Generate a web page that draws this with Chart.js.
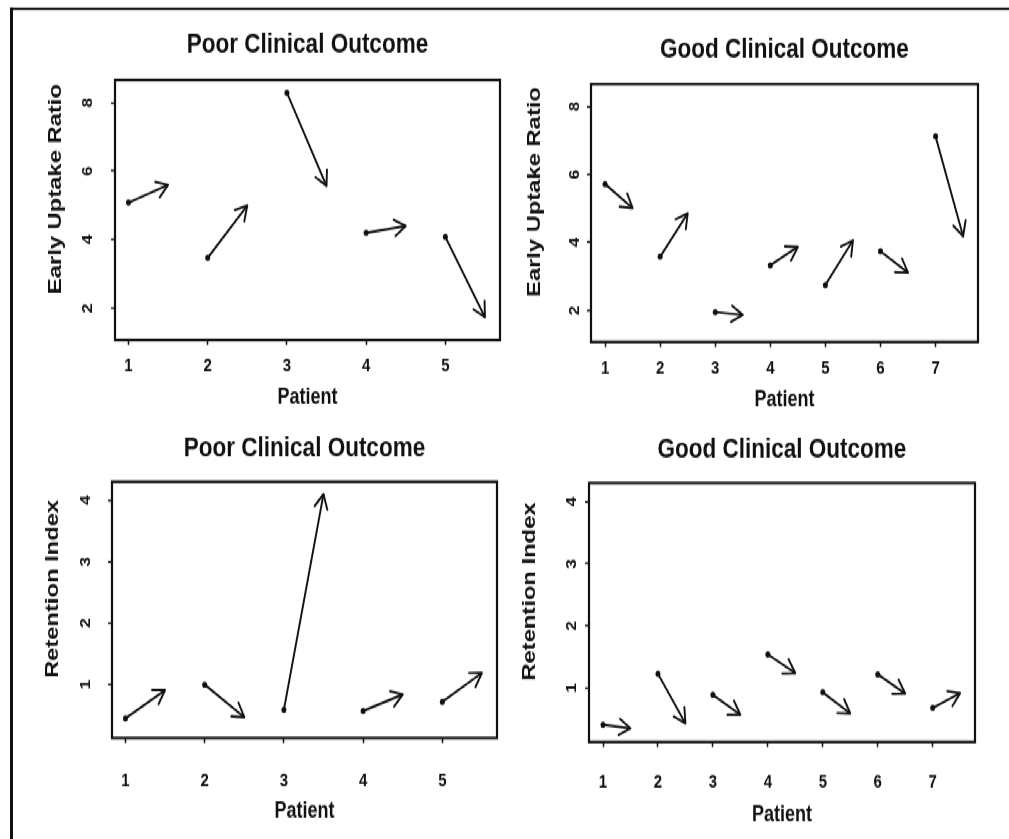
<!DOCTYPE html>
<html>
<head>
<meta charset="utf-8">
<script src="https://cdn.jsdelivr.net/npm/chart.js@4.4.1/dist/chart.umd.min.js"></script>
<style>
    html, body { margin: 0; padding: 0; background: #fff; }
    body { width: 1009px; height: 839px; position: relative; overflow: hidden; }
    /* the scanned figure is stretched vertically, so draw flat and stretch */
    #sheet { position: absolute; left: 0; top: 0; width: 1009px; height: 671.2px; transform: scale(1, 1.25); transform-origin: 0 0; }
    #frame { position: absolute; left: 10px; top: 6.4px; right: -20px; bottom: -20px; border-top: 2.4px solid #111; border-left: 3px solid #111; }
    canvas { position: absolute; }
</style>
</head>
<body>
<div id="sheet">
<div id="frame"></div>
<canvas id="uptakePoor" width="505" height="336" style="left:0;top:0"></canvas>
<canvas id="uptakeGood" width="504" height="336" style="left:505px;top:0"></canvas>
<canvas id="retentionPoor" width="505" height="335" style="left:0;top:336px"></canvas>
<canvas id="retentionGood" width="504" height="335" style="left:505px;top:336px"></canvas>
</div>
<script>
// patients in each outcome group
const poorPatients = [1, 2, 3, 4, 5];
const goodPatients = [1, 2, 3, 4, 5, 6, 7];

// early uptake ratio, first scan -> second scan
const uptakePoorBefore = [5.08, 3.47, 8.29, 4.20, 4.08];
const uptakePoorAfter = [5.60, 5.00, 5.57, 4.40, 1.74];
const uptakeGoodBefore = [5.72, 3.58, 1.95, 3.33, 2.75, 3.74, 7.12];
const uptakeGoodAfter = [5.01, 4.86, 1.87, 3.87, 4.06, 3.11, 4.18];

// retention index, first scan -> second scan
const retentionPoorBefore = [0.45, 1.00, 0.59, 0.57, 0.72];
const retentionPoorAfter = [0.91, 0.47, 4.10, 0.84, 1.19];
const retentionGoodBefore = [0.41, 1.23, 0.89, 1.54, 0.93, 1.22, 0.68];
const retentionGoodAfter = [0.35, 0.43, 0.57, 1.24, 0.59, 0.91, 0.92];

// tick labels
const uptakeTicks = [2, 4, 6, 8];
const retentionTicks = [1, 2, 3, 4];

const arrowShift = 0.5; // arrow ends half a patient to the right

const FONT = '"Liberation Sans", Arial, Helvetica, sans-serif';
const INK = '#111';

function arrowData(patients, before, after) {
    const pts = [];
    patients.forEach((p, i) => {
        pts.push({ x: p, y: before[i] });
        pts.push({ x: p + arrowShift, y: after[i] });
        pts.push({ x: p + arrowShift, y: null }); // break the line
    });
    return pts;
}

// open arrow heads at the end of each segment
const arrowHeads = {
    id: 'arrowHeads',
    afterDatasetsDraw(chart) {
        const meta = chart.getDatasetMeta(0);
        const ctx = chart.ctx;
        const len = 13, spread = Math.PI / 6;
        ctx.save();
        ctx.strokeStyle = INK;
        ctx.lineWidth = 1.9;
        ctx.lineCap = 'round';
        ctx.lineJoin = 'round';
        for (let i = 0; i + 1 < meta.data.length; i += 3) {
            const a = meta.data[i], b = meta.data[i + 1];
            const ang = Math.atan2(b.y - a.y, b.x - a.x);
            ctx.beginPath();
            ctx.moveTo(b.x - len * Math.cos(ang - spread), b.y - len * Math.sin(ang - spread));
            ctx.lineTo(b.x, b.y);
            ctx.lineTo(b.x - len * Math.cos(ang + spread), b.y - len * Math.sin(ang + spread));
            ctx.stroke();
        }
        ctx.restore();
    }
};

// box around the plot + the y label (sits a bit above the middle)
const plotFrame = {
    id: 'plotFrame',
    afterDraw(chart, args, opts) {
        const { ctx, chartArea: a } = chart;
        ctx.save();
        ctx.strokeStyle = INK;
        ctx.lineWidth = 2.2;
        ctx.strokeRect(a.left, a.top, a.right - a.left, a.bottom - a.top);
        ctx.font = 'bold 19px ' + FONT;
        ctx.fillStyle = INK;
        ctx.textAlign = 'center';
        ctx.textBaseline = 'middle';
        ctx.translate(a.left - opts.labelGap, (a.top + a.bottom) / 2 - 16.8);
        ctx.rotate(-Math.PI / 2);
        ctx.fillText(opts.label, 0, 0);
        ctx.restore();
    }
};

function makePanel(id, title, yLabel, patients, before, after, xRange, yRange, yTicks, lay) {
    new Chart(document.getElementById(id), {
        type: 'scatter',
        data: {
            datasets: [{
                data: arrowData(patients, before, after),
                showLine: true,
                spanGaps: false,
                borderColor: INK,
                borderWidth: 1.9,
                pointRadius: 0,
                xAxisID: 'x',
                yAxisID: 'y'
            }, {
                data: patients.map((p, i) => ({ x: p, y: before[i] })),
                pointRadius: 2.5,
                pointBackgroundColor: INK,
                pointBorderWidth: 0,
                xAxisID: 'x',
                yAxisID: 'y'
            }]
        },
        options: {
            responsive: false,
            animation: false,
            events: [],
            layout: { padding: { left: 0, right: lay.right, top: 0, bottom: 0 } },
            plugins: {
                legend: { display: false },
                tooltip: { enabled: false },
                plotFrame: { label: yLabel, labelGap: lay.labelGap }
            },
            scales: {
                x: {
                    type: 'linear',
                    position: 'bottom',
                    min: xRange[0],
                    max: xRange[1],
                    afterBuildTicks: s => { s.ticks = patients.map(v => ({ value: v })); },
                    afterFit: s => { s.height = lay.bottom; },
                    grid: { display: true, drawOnChartArea: false, drawTicks: true, tickLength: 4, tickColor: INK, tickWidth: 1.5 },
                    border: { display: false },
                    ticks: { color: INK, padding: lay.xTickPad - 0.6, maxRotation: 0, autoSkip: false,
                             font: { family: FONT, size: 15, weight: 'bold' } },
                    title: { display: true, text: 'Patient', color: INK,
                             font: { family: FONT, size: 18, weight: 'bold' },
                             padding: { top: 0, bottom: lay.xTitleBottom - 0.6 } }
                },
                y: {
                    type: 'linear',
                    position: 'left',
                    min: yRange[0],
                    max: yRange[1],
                    afterBuildTicks: s => { s.ticks = yTicks.map(v => ({ value: v })); },
                    afterFit: s => { s.width = lay.left; },
                    grid: { display: true, drawOnChartArea: false, drawTicks: true, tickLength: 4, tickColor: INK, tickWidth: 1.5 },
                    border: { display: false },
                    ticks: { color: INK, padding: lay.yTickPad, crossAlign: 'center', minRotation: 90, maxRotation: 90,
                             autoSkip: false, font: { family: FONT, size: 14, weight: 'bold' } }
                },
                main: {
                    type: 'linear',
                    position: 'top',
                    grid: { display: false },
                    border: { display: false },
                    ticks: { display: false },
                    afterFit: s => { s.height = lay.top; },
                    title: { display: true, text: title, color: INK,
                             font: { family: FONT, size: 22.5, weight: 'bold' },
                             padding: { top: lay.titleTop - 0.3, bottom: 0 } }
                }
            }
        },
        plugins: [arrowHeads, plotFrame]
    });
}

const poorX = [0.83, 5.69];
const goodX = [0.745, 7.77];
const uptakeY = [1.07, 8.66];
const retentionY = [0.13, 4.3];

makePanel('uptakePoor', 'Poor Clinical Outcome', 'Early Uptake Ratio', poorPatients,
    uptakePoorBefore, uptakePoorAfter, poorX, uptakeY, uptakeTicks,
    { left: 115, right: 5, top: 64, bottom: 64, titleTop: 22.8, xTickPad: 8.6, xTitleBottom: 8.2, yTickPad: 18.6, labelGap: 59 });
makePanel('uptakeGood', 'Good Clinical Outcome', 'Early Uptake Ratio', goodPatients,
    uptakeGoodBefore, uptakeGoodAfter, goodX, uptakeY, uptakeTicks,
    { left: 86, right: 31, top: 67.2, bottom: 62.4, titleTop: 26.8, xTickPad: 8.6, xTitleBottom: 5.8, yTickPad: 8.4, labelGap: 56 });
makePanel('retentionPoor', 'Poor Clinical Outcome', 'Retention Index', poorPatients,
    retentionPoorBefore, retentionPoorAfter, poorX, retentionY, retentionTicks,
    { left: 112, right: 8, top: 49.4, bottom: 80.6, titleTop: 9.2, xTickPad: 21.8, xTitleBottom: 11.6, yTickPad: 18.1, labelGap: 59 });
makePanel('retentionGood', 'Good Clinical Outcome', 'Retention Index', goodPatients,
    retentionGoodBefore, retentionGoodAfter, goodX, retentionY, retentionTicks,
    { left: 84, right: 34, top: 50.4, bottom: 77.4, titleTop: 10.8, xTickPad: 20.2, xTitleBottom: 8.8, yTickPad: 9.1, labelGap: 59 });
</script>
</body>
</html>
